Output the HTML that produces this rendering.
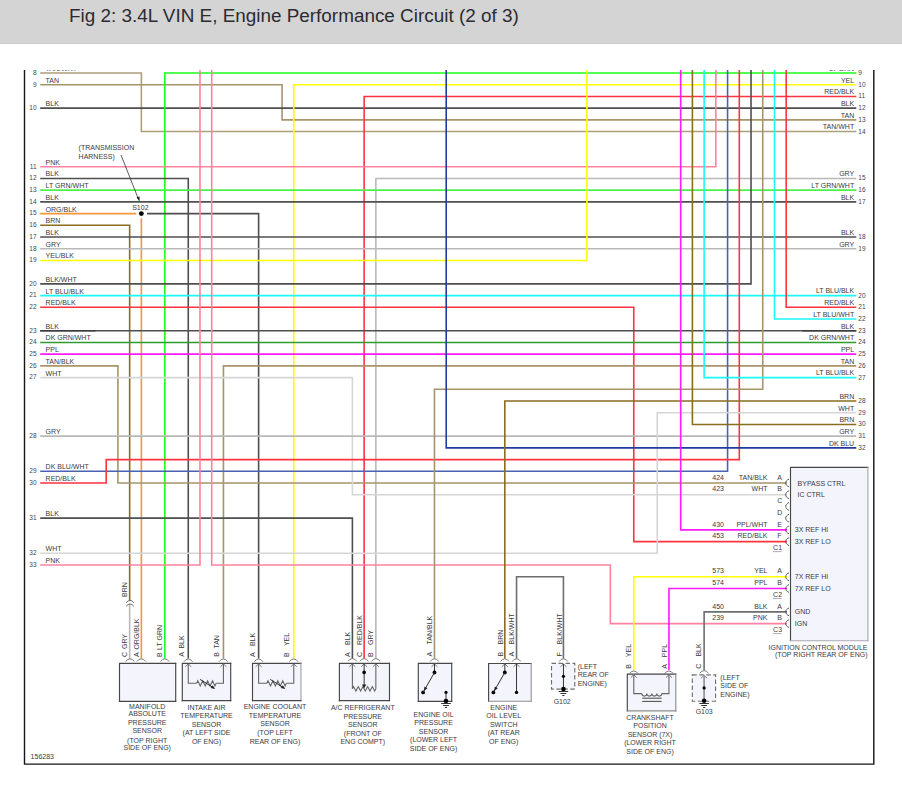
<!DOCTYPE html>
<html><head><meta charset="utf-8"><title>Fig 2: 3.4L VIN E, Engine Performance Circuit (2 of 3)</title>
<style>
html,body{margin:0;padding:0;background:#fff;}
body{width:902px;height:786px;overflow:hidden;position:relative;}
.hdr{position:absolute;left:0;top:0;width:902px;height:43px;background:#d4d4d4;border-bottom:1px solid #cbcbcb;}
.hdr h1{position:absolute;left:69px;top:0;margin:0;font:normal 18.9px/32px "Liberation Sans",Arial,sans-serif;color:#2b2b33;white-space:nowrap;}
svg{position:absolute;left:0;top:0;}
svg text{font-family:"Liberation Sans",Arial,sans-serif;fill:#3a3a44;}
.t{font-size:7px;}
.n{font-size:6.5px;fill:#44444e;}
.w path{fill:none;stroke-width:1.6;stroke-linejoin:miter;stroke-linecap:butt;}
</style></head>
<body>
<div class="hdr"><h1>Fig 2: 3.4L VIN E, Engine Performance Circuit (2 of 3)</h1></div>
<svg width="902" height="786" viewBox="0 0 902 786">
<g class="w">
<path d="M40.2 73 L141.37 73 L141.37 131.57 L856.3 131.57" stroke="#ad9e7c"/>
<path d="M40.2 84.72 L282.06 84.72 L282.06 119.86 L856.3 119.86" stroke="#a8946a"/>
<path d="M40.2 108.14 L856.3 108.14" stroke="#4f4f4f"/>
<path d="M164.82 658.6 L164.82 73 L856.3 73" stroke="#1aff1a" stroke-width="1.9"/>
<path d="M293.78 658.6 L293.78 84.72 L856.3 84.72" stroke="#ffff00" stroke-width="1.9"/>
<path d="M364.13 658.6 L364.13 96.43 L856.3 96.43" stroke="#ff3440"/>
<path d="M375.85 658.6 L375.85 178.44 L856.3 178.44" stroke="#b9b9b9"/>
<path d="M40.2 166.72 L715.85 166.72 L715.85 70" stroke="#ff82a0"/>
<path d="M40.2 178.44 L188.27 178.44 L188.27 658.6" stroke="#4f4f4f"/>
<path d="M40.2 190.15 L856.3 190.15" stroke="#4af24a"/>
<path d="M40.2 201.87 L856.3 201.87" stroke="#4f4f4f"/>
<path d="M40.2 213.58 L136.2 213.58" stroke="#f7953a"/>
<path d="M141.37 218.2 L141.37 658.6" stroke="#f7953a"/>
<path d="M147 213.58 L258.61 213.58 L258.61 658.6" stroke="#4f4f4f"/>
<path d="M40.2 225.29 L129.65 225.29 L129.65 600" stroke="#8a6c1e"/>
<path d="M129.65 604.5 L129.65 658.6" stroke="#b9b9b9"/>
<path d="M40.2 237.01 L856.3 237.01" stroke="#4f4f4f"/>
<path d="M40.2 248.72 L856.3 248.72" stroke="#b9b9b9"/>
<path d="M40.2 260.44 L586.88 260.44 L586.88 70" stroke="#ffff00" stroke-width="1.9"/>
<path d="M40.2 283.87 L751.02 283.87 L751.02 70" stroke="#4f4f4f"/>
<path d="M40.2 295.59 L856.3 295.59" stroke="#1af8f8"/>
<path d="M40.2 307.3 L633.78 307.3 L633.78 541.6 L787 541.6" stroke="#ff3440"/>
<path d="M40.2 330.73 L856.3 330.73" stroke="#4f4f4f"/>
<path d="M40.2 342.44 L856.3 342.44" stroke="#2f9a2f"/>
<path d="M40.2 354.16 L856.3 354.16" stroke="#ff1aff"/>
<path d="M40.2 365.88 L117.92 365.88 L117.92 483.02 L787 483.02" stroke="#a8946a"/>
<path d="M223.44 658.6 L223.44 365.88 L856.3 365.88" stroke="#a8946a"/>
<path d="M40.2 377.59 L352.4 377.59 L352.4 494.74 L787 494.74" stroke="#d6d6d6"/>
<path d="M40.2 436.17 L856.3 436.17" stroke="#b9b9b9"/>
<path d="M40.2 471.31 L727.57 471.31 L727.57 70" stroke="#4a62b0"/>
<path d="M40.2 483.02 L106.2 483.02 L106.2 459.59 L739.3 459.59 L739.3 70" stroke="#ff3440"/>
<path d="M40.2 518.17 L352.4 518.17 L352.4 658.6" stroke="#4f4f4f"/>
<path d="M40.2 553.32 L657.23 553.32 L657.23 412.74 L856.3 412.74" stroke="#d6d6d6"/>
<path d="M40.2 565.03 L199.99 565.03 L199.99 70" stroke="#ff82a0"/>
<path d="M211.72 70 L211.72 565.03 L610.33 565.03 L610.33 623.61 L787 623.61" stroke="#ff82a0"/>
<path d="M434.47 658.6 L434.47 389.31 L762.74 389.31 L762.74 70" stroke="#a8946a"/>
<path d="M446.2 70 L446.2 447.88 L856.3 447.88" stroke="#203c9e"/>
<path d="M504.82 658.6 L504.82 401.02 L856.3 401.02" stroke="#8a6c1e"/>
<path d="M516.54 658.6 L516.54 576.75 L563.44 576.75 L563.44 658.6" stroke="#6e6e6e"/>
<path d="M633.78 670 L633.78 576.75 L787 576.75" stroke="#ffff00" stroke-width="1.9"/>
<path d="M668.95 670 L668.95 588.46 L787 588.46" stroke="#ff1aff"/>
<path d="M704.12 670 L704.12 611.89 L787 611.89" stroke="#6e6e6e"/>
<path d="M680.68 70 L680.68 529.88 L787 529.88" stroke="#ff1aff"/>
<path d="M692.4 70 L692.4 424.45 L856.3 424.45" stroke="#8a6c1e"/>
<path d="M704.12 70 L704.12 377.59 L856.3 377.59" stroke="#1af8f8"/>
<path d="M774.47 70 L774.47 319.01 L856.3 319.01" stroke="#1af8f8"/>
<path d="M786.19 70 L786.19 307.3 L856.3 307.3" stroke="#ff3440"/>
</g>
<defs><clipPath id="topclip"><rect x="0" y="70" width="902" height="20"/></clipPath></defs>
<path d="M40.2 330.73 H95.4 M802.2 330.73 H856.3" stroke="#3e3e3e" stroke-width="1.7" fill="none"/>
<path d="M24.5 70 V764.1 H873.8 V70" fill="none" stroke="#151515" stroke-width="1.4"/>
<rect x="119.5" y="663.3" width="56.2" height="38" fill="#f4f4fc"/>
<path d="M119.5 701.3 V663.3 H175.7" fill="none" stroke="#474747" stroke-width="1.15" stroke-linecap="square"/>
<path d="M175.7 663.3 V701.3" fill="none" stroke="#474747" stroke-width="1.15" stroke-linecap="square"/>
<path d="M119.5 701.3 H175.7" fill="none" stroke="#474747" stroke-width="1.15" stroke-linecap="square"/>
<path d="M125.7 661.5 Q127.4 658.8 130 658.8 Q132.6 658.8 134.3 661.5" fill="none" stroke="#777" stroke-width="1"/>
<path d="M137.07 661.5 Q138.77 658.8 141.37 658.8 Q143.97 658.8 145.67 661.5" fill="none" stroke="#777" stroke-width="1"/>
<path d="M160.52 661.5 Q162.22 658.8 164.82 658.8 Q167.42 658.8 169.12 661.5" fill="none" stroke="#777" stroke-width="1"/>
<rect x="182.3" y="663.3" width="48.4" height="37.3" fill="#f4f4fc"/>
<path d="M182.3 700.6 V663.3 H230.7" fill="none" stroke="#474747" stroke-width="1.15" stroke-linecap="square"/>
<path d="M230.7 663.3 V700.6" fill="none" stroke="#474747" stroke-width="1.15" stroke-linecap="square"/>
<path d="M182.3 700.6 H230.7" fill="none" stroke="#474747" stroke-width="1.15" stroke-linecap="square"/>
<path d="M183.97 661.7 Q185.67 659 188.27 659 Q190.87 659 192.57 661.7" fill="none" stroke="#777" stroke-width="1"/>
<path d="M185.27 666.8 L188.27 663.9 L191.27 666.8" fill="none" stroke="#6a6a6a" stroke-width="0.9"/>
<path d="M219.14 661.7 Q220.84 659 223.44 659 Q226.04 659 227.74 661.7" fill="none" stroke="#777" stroke-width="1"/>
<path d="M220.44 666.8 L223.44 663.9 L226.44 666.8" fill="none" stroke="#6a6a6a" stroke-width="0.9"/>
<path d="M188.27 664 L188.27 683.3 L196.6 683.3" fill="none" stroke="#666" stroke-width="1.1"/>
<path d="M196.6 683.3 L197.82 680.7 L200.28 685.9 L202.72 680.7 L205.17 685.9 L207.62 680.7 L210.07 685.9 L212.52 680.7 L214.97 685.9 L216.2 683.3" fill="none" stroke="#666" stroke-width="1.1"/>
<path d="M216.2 683.3 L223.44 683.3 L223.44 664" fill="none" stroke="#666" stroke-width="1.1"/>
<path d="M200 679.4 L213.5 687.8" fill="none" stroke="#222" stroke-width="0.9"/>
<path d="M215.2 689 L210.6 687.9 L212.6 685.2 Z" fill="#222"/>
<rect x="252.5" y="663.3" width="48.5" height="37.3" fill="#f4f4fc"/>
<path d="M252.5 700.6 V663.3 H301" fill="none" stroke="#474747" stroke-width="1.15" stroke-linecap="square"/>
<path d="M301 663.3 V700.6" fill="none" stroke="#a4a4ac" stroke-width="1.15" stroke-linecap="square"/>
<path d="M252.5 700.6 H301" fill="none" stroke="#474747" stroke-width="1.15" stroke-linecap="square"/>
<path d="M254.31 661.7 Q256.01 659 258.61 659 Q261.21 659 262.91 661.7" fill="none" stroke="#777" stroke-width="1"/>
<path d="M255.61 666.8 L258.61 663.9 L261.61 666.8" fill="none" stroke="#6a6a6a" stroke-width="0.9"/>
<path d="M289.48 661.7 Q291.18 659 293.78 659 Q296.38 659 298.08 661.7" fill="none" stroke="#777" stroke-width="1"/>
<path d="M290.78 666.8 L293.78 663.9 L296.78 666.8" fill="none" stroke="#6a6a6a" stroke-width="0.9"/>
<path d="M258.61 664 L258.61 683.3 L266.8 683.3" fill="none" stroke="#666" stroke-width="1.1"/>
<path d="M266.8 683.3 L268.03 680.7 L270.48 685.9 L272.93 680.7 L275.38 685.9 L277.82 680.7 L280.27 685.9 L282.72 680.7 L285.17 685.9 L286.4 683.3" fill="none" stroke="#666" stroke-width="1.1"/>
<path d="M286.4 683.3 L293.78 683.3 L293.78 664" fill="none" stroke="#666" stroke-width="1.1"/>
<path d="M270.2 679.4 L283.7 687.8" fill="none" stroke="#222" stroke-width="0.9"/>
<path d="M285.4 689 L280.8 687.9 L282.8 685.2 Z" fill="#222"/>
<rect x="339.4" y="663.3" width="50.1" height="37.3" fill="#f4f4fc"/>
<path d="M339.4 700.6 V663.3 H389.5" fill="none" stroke="#474747" stroke-width="1.15" stroke-linecap="square"/>
<path d="M389.5 663.3 V700.6" fill="none" stroke="#474747" stroke-width="1.15" stroke-linecap="square"/>
<path d="M339.4 700.6 H389.5" fill="none" stroke="#474747" stroke-width="1.15" stroke-linecap="square"/>
<path d="M348.1 661.3 Q349.8 658.6 352.4 658.6 Q355 658.6 356.7 661.3" fill="none" stroke="#777" stroke-width="1"/>
<path d="M349.4 666.8 L352.4 663.9 L355.4 666.8" fill="none" stroke="#6a6a6a" stroke-width="0.9"/>
<path d="M359.83 661.3 Q361.53 658.6 364.13 658.6 Q366.73 658.6 368.43 661.3" fill="none" stroke="#777" stroke-width="1"/>
<path d="M361.13 666.8 L364.13 663.9 L367.13 666.8" fill="none" stroke="#6a6a6a" stroke-width="0.9"/>
<path d="M371.55 661.3 Q373.25 658.6 375.85 658.6 Q378.45 658.6 380.15 661.3" fill="none" stroke="#777" stroke-width="1"/>
<path d="M372.85 666.8 L375.85 663.9 L378.85 666.8" fill="none" stroke="#6a6a6a" stroke-width="0.9"/>
<path d="M352.4 664 L352.4 688.8" fill="none" stroke="#666" stroke-width="1.1"/>
<path d="M352.4 688.8 L353.58 686.6 L355.92 691 L358.27 686.6 L360.61 691 L362.96 686.6 L365.3 691 L367.65 686.6 L369.99 691 L372.33 686.6 L374.68 691 L375.85 688.8" fill="none" stroke="#666" stroke-width="1.1"/>
<path d="M375.85 688.8 L375.85 664" fill="none" stroke="#666" stroke-width="1.1"/>
<path d="M364.13 664 L364.13 685.5" fill="none" stroke="#333" stroke-width="1"/>
<circle cx="364.13" cy="672.4" r="1.8" fill="#000"/>
<path d="M364.13 688.3 L361.93 684.4 L366.33 684.4 Z" fill="#222"/>
<rect x="418.3" y="663.4" width="33.4" height="37.9" fill="#f4f4fc"/>
<path d="M418.3 701.3 V663.4 H451.7" fill="none" stroke="#474747" stroke-width="1.15" stroke-linecap="square"/>
<path d="M451.7 663.4 V701.3" fill="none" stroke="#474747" stroke-width="1.15" stroke-linecap="square"/>
<path d="M418.3 701.3 H451.7" fill="none" stroke="#474747" stroke-width="1.15" stroke-linecap="square"/>
<path d="M430.17 661.5 Q431.87 658.8 434.47 658.8 Q437.07 658.8 438.77 661.5" fill="none" stroke="#777" stroke-width="1"/>
<path d="M431.47 666.8 L434.47 663.9 L437.47 666.8" fill="none" stroke="#6a6a6a" stroke-width="0.9"/>
<path d="M434.47 664 L434.47 672.5" fill="none" stroke="#333" stroke-width="1"/>
<circle cx="434.47" cy="672.5" r="1.9" fill="#000"/>
<circle cx="423.1" cy="692.4" r="1.9" fill="#000"/>
<path d="M434.47 672.5 L423.1 692.4" fill="none" stroke="#333" stroke-width="1"/>
<path d="M423.89 691.01 L424.49 686.52 L427.44 688.20 Z" fill="#222"/>
<circle cx="446" cy="692.4" r="1.6" fill="#000"/>
<path d="M446 692.4 L446 701" fill="none" stroke="#333" stroke-width="1"/>
<circle cx="446" cy="701" r="2.3" fill="#000"/>
<path d="M441.2 703.5 L450.8 703.5" fill="none" stroke="#333" stroke-width="1"/>
<path d="M443.1 705.5 L448.9 705.5" fill="none" stroke="#333" stroke-width="1"/>
<path d="M444.9 707.5 L447.1 707.5" fill="none" stroke="#333" stroke-width="1"/>
<rect x="488.6" y="663.5" width="42.6" height="37.7" fill="#f4f4fc"/>
<path d="M488.6 701.2 V663.5 H531.2" fill="none" stroke="#474747" stroke-width="1.15" stroke-linecap="square"/>
<path d="M531.2 663.5 V701.2" fill="none" stroke="#959595" stroke-width="1.15" stroke-linecap="square"/>
<path d="M488.6 701.2 H531.2" fill="none" stroke="#8e8e8e" stroke-width="1.15" stroke-linecap="square"/>
<path d="M500.52 661.5 Q502.22 658.8 504.82 658.8 Q507.42 658.8 509.12 661.5" fill="none" stroke="#777" stroke-width="1"/>
<path d="M501.82 666.8 L504.82 663.9 L507.82 666.8" fill="none" stroke="#6a6a6a" stroke-width="0.9"/>
<path d="M512.24 661.5 Q513.94 658.8 516.54 658.8 Q519.14 658.8 520.84 661.5" fill="none" stroke="#777" stroke-width="1"/>
<path d="M513.54 666.8 L516.54 663.9 L519.54 666.8" fill="none" stroke="#6a6a6a" stroke-width="0.9"/>
<path d="M504.82 664 L504.82 672.5" fill="none" stroke="#333" stroke-width="1"/>
<circle cx="504.82" cy="672.5" r="1.9" fill="#000"/>
<circle cx="493.4" cy="692.4" r="1.9" fill="#000"/>
<path d="M504.82 672.5 L493.4 692.4" fill="none" stroke="#333" stroke-width="1"/>
<path d="M494.20 691.01 L494.81 686.52 L497.76 688.21 Z" fill="#222"/>
<path d="M516.54 664 L516.54 692.4" fill="none" stroke="#333" stroke-width="1"/>
<circle cx="516.54" cy="692.4" r="1.7" fill="#000"/>
<rect x="551.5" y="663.4" width="23.3" height="25.7" fill="#f4f4fc" stroke="#707070" stroke-width="1.15" stroke-dasharray="4.5 2.5"/>
<path d="M559.14 661.5 Q560.84 658.8 563.44 658.8 Q566.04 658.8 567.74 661.5" fill="none" stroke="#777" stroke-width="1"/>
<path d="M560.44 666.8 L563.44 663.9 L566.44 666.8" fill="none" stroke="#6a6a6a" stroke-width="0.9"/>
<path d="M563.44 664 L563.44 689" fill="none" stroke="#333" stroke-width="1"/>
<circle cx="563.44" cy="676.3" r="1.6" fill="#000"/>
<circle cx="563.44" cy="689" r="2.3" fill="#000"/>
<path d="M558.64 691.5 L568.24 691.5" fill="none" stroke="#333" stroke-width="1"/>
<path d="M560.54 693.5 L566.34 693.5" fill="none" stroke="#333" stroke-width="1"/>
<path d="M562.34 695.5 L564.54 695.5" fill="none" stroke="#333" stroke-width="1"/>
<rect x="627.3" y="674.1" width="48.5" height="36.8" fill="#f4f4fc"/>
<path d="M627.3 710.9 V674.1 H675.8" fill="none" stroke="#474747" stroke-width="1.15" stroke-linecap="square"/>
<path d="M675.8 674.1 V710.9" fill="none" stroke="#8c8c8c" stroke-width="1.15" stroke-linecap="square"/>
<path d="M627.3 710.9 H675.8" fill="none" stroke="#8c8c8c" stroke-width="1.15" stroke-linecap="square"/>
<path d="M629.48 673.7 Q631.18 671 633.78 671 Q636.38 671 638.08 673.7" fill="none" stroke="#777" stroke-width="1"/>
<path d="M630.78 677.6 L633.78 674.7 L636.78 677.6" fill="none" stroke="#6a6a6a" stroke-width="0.9"/>
<path d="M664.65 673.7 Q666.35 671 668.95 671 Q671.55 671 673.25 673.7" fill="none" stroke="#777" stroke-width="1"/>
<path d="M665.95 677.6 L668.95 674.7 L671.95 677.6" fill="none" stroke="#6a6a6a" stroke-width="0.9"/>
<path d="M633.78 675 L633.78 693.6 L642 693.6" fill="none" stroke="#666" stroke-width="1.1"/>
<path d="M641.8 693.6 a2.5 2.5 0 0 0 5 0 a2.5 2.5 0 0 0 5 0 a2.5 2.5 0 0 0 5 0 a2.5 2.5 0 0 0 5 0" fill="none" stroke="#666" stroke-width="1.1"/>
<path d="M661.8 693.6 L668.95 693.6 L668.95 675" fill="none" stroke="#666" stroke-width="1.1"/>
<path d="M642.2 698.2 L661.6 698.2" fill="none" stroke="#555" stroke-width="1.1"/>
<path d="M642.2 701.4 L661.6 701.4" fill="none" stroke="#555" stroke-width="1.1"/>
<rect x="692.3" y="674.9" width="23.3" height="26.3" fill="#f4f4fc" stroke="#707070" stroke-width="1.15" stroke-dasharray="4.5 2.5"/>
<path d="M699.82 673.3 Q701.52 670.6 704.12 670.6 Q706.72 670.6 708.42 673.3" fill="none" stroke="#777" stroke-width="1"/>
<path d="M701.12 678.2 L704.12 675.3 L707.12 678.2" fill="none" stroke="#6a6a6a" stroke-width="0.9"/>
<path d="M704.12 675 L704.12 700.7" fill="none" stroke="#999" stroke-width="1.8"/>
<circle cx="704.12" cy="687.9" r="1.6" fill="#000"/>
<circle cx="704.12" cy="700.7" r="2.3" fill="#000"/>
<path d="M699.32 703.5 L708.92 703.5" fill="none" stroke="#333" stroke-width="1"/>
<path d="M701.22 705.5 L707.02 705.5" fill="none" stroke="#333" stroke-width="1"/>
<path d="M703.02 707.5 L705.22 707.5" fill="none" stroke="#333" stroke-width="1"/>
<rect x="790.5" y="467.4" width="77.4" height="173.3" fill="#f4f4fc"/>
<path d="M790.5 640.7 V467.4 H867.9" fill="none" stroke="#474747" stroke-width="1.15" stroke-linecap="square"/>
<path d="M867.9 467.4 V640.7" fill="none" stroke="#a8a8b0" stroke-width="1.15" stroke-linecap="square"/>
<path d="M790.5 640.7 H867.9" fill="none" stroke="#a8a8b0" stroke-width="1.15" stroke-linecap="square"/>
<path d="M789 479.12 C784.6 480.82 784.6 485.22 789 486.92" fill="none" stroke="#555" stroke-width="1"/>
<path d="M789 490.84 C784.6 492.54 784.6 496.94 789 498.64" fill="none" stroke="#555" stroke-width="1"/>
<path d="M789 502.56 C784.6 504.25 784.6 508.65 789 510.35" fill="none" stroke="#555" stroke-width="1"/>
<path d="M789 514.27 C784.6 515.97 784.6 520.37 789 522.07" fill="none" stroke="#555" stroke-width="1"/>
<path d="M789 525.99 C784.6 527.68 784.6 532.09 789 533.78" fill="none" stroke="#555" stroke-width="1"/>
<path d="M789 537.7 C784.6 539.4 784.6 543.8 789 545.5" fill="none" stroke="#555" stroke-width="1"/>
<path d="M789 572.85 C784.6 574.54 784.6 578.95 789 580.64" fill="none" stroke="#555" stroke-width="1"/>
<path d="M789 584.56 C784.6 586.26 784.6 590.66 789 592.36" fill="none" stroke="#555" stroke-width="1"/>
<path d="M789 607.99 C784.6 609.69 784.6 614.09 789 615.79" fill="none" stroke="#555" stroke-width="1"/>
<path d="M789 619.71 C784.6 621.4 784.6 625.81 789 627.5" fill="none" stroke="#555" stroke-width="1"/>
<path d="M126.2 602.6 Q130 598.2 133.8 602.6 M126.2 606.2 Q130 601.8 133.8 606.2" fill="none" stroke="#666" stroke-width="1"/>
<circle cx="141.37" cy="213.58" r="2.4" fill="#000"/>
<path d="M121 155 L138.6 199.5" fill="none" stroke="#333" stroke-width="0.8"/>
<path d="M139.5 201.8 L136.6 197.3 L139.6 196.4 Z" fill="#222"/>
<path d="M772.8 551.62 H781.6" stroke="#777" stroke-width="0.6"/>
<path d="M772.8 598.47 H781.6" stroke="#777" stroke-width="0.6"/>
<path d="M772.8 633.62 H781.6" stroke="#777" stroke-width="0.6"/>
<g>
<text class="n" x="36.6" y="74.8" text-anchor="end">8</text>
<text class="n" x="36.6" y="86.52" text-anchor="end">9</text>
<text class="t" x="45.6" y="82.72">TAN</text>
<text class="n" x="36.6" y="109.94" text-anchor="end">10</text>
<text class="t" x="45.6" y="106.14">BLK</text>
<text class="n" x="36.6" y="168.52" text-anchor="end">11</text>
<text class="t" x="45.6" y="164.72">PNK</text>
<text class="n" x="36.6" y="180.24" text-anchor="end">12</text>
<text class="t" x="45.6" y="176.44">BLK</text>
<text class="n" x="36.6" y="191.95" text-anchor="end">13</text>
<text class="t" x="45.6" y="188.15">LT GRN/WHT</text>
<text class="n" x="36.6" y="203.67" text-anchor="end">14</text>
<text class="t" x="45.6" y="199.87">BLK</text>
<text class="n" x="36.6" y="215.38" text-anchor="end">15</text>
<text class="t" x="45.6" y="211.58">ORG/BLK</text>
<text class="n" x="36.6" y="227.09" text-anchor="end">16</text>
<text class="t" x="45.6" y="223.29">BRN</text>
<text class="n" x="36.6" y="238.81" text-anchor="end">17</text>
<text class="t" x="45.6" y="235.01">BLK</text>
<text class="n" x="36.6" y="250.53" text-anchor="end">18</text>
<text class="t" x="45.6" y="246.72">GRY</text>
<text class="n" x="36.6" y="262.24" text-anchor="end">19</text>
<text class="t" x="45.6" y="258.44">YEL/BLK</text>
<text class="n" x="36.6" y="285.67" text-anchor="end">20</text>
<text class="t" x="45.6" y="281.87">BLK/WHT</text>
<text class="n" x="36.6" y="297.39" text-anchor="end">21</text>
<text class="t" x="45.6" y="293.59">LT BLU/BLK</text>
<text class="n" x="36.6" y="309.1" text-anchor="end">22</text>
<text class="t" x="45.6" y="305.3">RED/BLK</text>
<text class="n" x="36.6" y="332.53" text-anchor="end">23</text>
<text class="t" x="45.6" y="328.73">BLK</text>
<text class="n" x="36.6" y="344.25" text-anchor="end">24</text>
<text class="t" x="45.6" y="340.44">DK GRN/WHT</text>
<text class="n" x="36.6" y="355.96" text-anchor="end">25</text>
<text class="t" x="45.6" y="352.16">PPL</text>
<text class="n" x="36.6" y="367.68" text-anchor="end">26</text>
<text class="t" x="45.6" y="363.88">TAN/BLK</text>
<text class="n" x="36.6" y="379.39" text-anchor="end">27</text>
<text class="t" x="45.6" y="375.59">WHT</text>
<text class="n" x="36.6" y="437.97" text-anchor="end">28</text>
<text class="t" x="45.6" y="434.17">GRY</text>
<text class="n" x="36.6" y="473.11" text-anchor="end">29</text>
<text class="t" x="45.6" y="469.31">DK BLU/WHT</text>
<text class="n" x="36.6" y="484.82" text-anchor="end">30</text>
<text class="t" x="45.6" y="481.02">RED/BLK</text>
<text class="n" x="36.6" y="519.97" text-anchor="end">31</text>
<text class="t" x="45.6" y="516.17">BLK</text>
<text class="n" x="36.6" y="555.12" text-anchor="end">32</text>
<text class="t" x="45.6" y="551.32">WHT</text>
<text class="n" x="36.6" y="566.83" text-anchor="end">33</text>
<text class="t" x="45.6" y="563.03">PNK</text>
<text class="n" x="858.3" y="75">9</text>
<text class="n" x="858.3" y="86.72">10</text>
<text class="t" x="854.2" y="82.62" text-anchor="end">YEL</text>
<text class="n" x="858.3" y="98.43">11</text>
<text class="t" x="854.2" y="94.33" text-anchor="end">RED/BLK</text>
<text class="n" x="858.3" y="110.14">12</text>
<text class="t" x="854.2" y="106.05" text-anchor="end">BLK</text>
<text class="n" x="858.3" y="121.86">13</text>
<text class="t" x="854.2" y="117.76" text-anchor="end">TAN</text>
<text class="n" x="858.3" y="133.57">14</text>
<text class="t" x="854.2" y="129.47" text-anchor="end">TAN/WHT</text>
<text class="n" x="858.3" y="180.44">15</text>
<text class="t" x="854.2" y="176.34" text-anchor="end">GRY</text>
<text class="n" x="858.3" y="192.15">16</text>
<text class="t" x="854.2" y="188.05" text-anchor="end">LT GRN/WHT</text>
<text class="n" x="858.3" y="203.87">17</text>
<text class="t" x="854.2" y="199.77" text-anchor="end">BLK</text>
<text class="n" x="858.3" y="239.01">18</text>
<text class="t" x="854.2" y="234.91" text-anchor="end">BLK</text>
<text class="n" x="858.3" y="250.72">19</text>
<text class="t" x="854.2" y="246.62" text-anchor="end">GRY</text>
<text class="n" x="858.3" y="297.59">20</text>
<text class="t" x="854.2" y="293.49" text-anchor="end">LT BLU/BLK</text>
<text class="n" x="858.3" y="309.3">21</text>
<text class="t" x="854.2" y="305.2" text-anchor="end">RED/BLK</text>
<text class="n" x="858.3" y="321.01">22</text>
<text class="t" x="854.2" y="316.91" text-anchor="end">LT BLU/WHT</text>
<text class="n" x="858.3" y="332.73">23</text>
<text class="t" x="854.2" y="328.63" text-anchor="end">BLK</text>
<text class="n" x="858.3" y="344.44">24</text>
<text class="t" x="854.2" y="340.34" text-anchor="end">DK GRN/WHT</text>
<text class="n" x="858.3" y="356.16">25</text>
<text class="t" x="854.2" y="352.06" text-anchor="end">PPL</text>
<text class="n" x="858.3" y="367.88">26</text>
<text class="t" x="854.2" y="363.77" text-anchor="end">TAN</text>
<text class="n" x="858.3" y="379.59">27</text>
<text class="t" x="854.2" y="375.49" text-anchor="end">LT BLU/BLK</text>
<text class="n" x="858.3" y="403.02">28</text>
<text class="t" x="854.2" y="398.92" text-anchor="end">BRN</text>
<text class="n" x="858.3" y="414.74">29</text>
<text class="t" x="854.2" y="410.63" text-anchor="end">WHT</text>
<text class="n" x="858.3" y="426.45">30</text>
<text class="t" x="854.2" y="422.35" text-anchor="end">BRN</text>
<text class="n" x="858.3" y="438.17">31</text>
<text class="t" x="854.2" y="434.06" text-anchor="end">GRY</text>
<text class="n" x="858.3" y="449.88">32</text>
<text class="t" x="854.2" y="445.78" text-anchor="end">DK BLU</text>
<text class="t" transform="translate(126.9 656.9) rotate(-90)">C</text>
<text class="t" transform="translate(126.9 649) rotate(-90)">GRY</text>
<text class="t" transform="translate(139.2 656.9) rotate(-90)">A</text>
<text class="t" transform="translate(139.2 649.6) rotate(-90)">ORG/BLK</text>
<text class="t" transform="translate(161.8 656.9) rotate(-90)">B</text>
<text class="t" transform="translate(161.8 649.9) rotate(-90)">LT GRN</text>
<text class="t" transform="translate(183.8 656.8) rotate(-90)">A</text>
<text class="t" transform="translate(183.8 648.6) rotate(-90)">BLK</text>
<text class="t" transform="translate(219 656.8) rotate(-90)">B</text>
<text class="t" transform="translate(219 648.6) rotate(-90)">TAN</text>
<text class="t" transform="translate(254.8 656.9) rotate(-90)">A</text>
<text class="t" transform="translate(254.8 646.1) rotate(-90)">BLK</text>
<text class="t" transform="translate(289.3 656.9) rotate(-90)">B</text>
<text class="t" transform="translate(289.3 646.1) rotate(-90)">YEL</text>
<text class="t" transform="translate(350.1 656.9) rotate(-90)">A</text>
<text class="t" transform="translate(350.1 645) rotate(-90)">BLK</text>
<text class="t" transform="translate(362 656.9) rotate(-90)">C</text>
<text class="t" transform="translate(362 645) rotate(-90)">RED/BLK</text>
<text class="t" transform="translate(373.2 656.9) rotate(-90)">B</text>
<text class="t" transform="translate(373.2 645) rotate(-90)">GRY</text>
<text class="t" transform="translate(432.2 656.4) rotate(-90)">A</text>
<text class="t" transform="translate(432.2 644.4) rotate(-90)">TAN/BLK</text>
<text class="t" transform="translate(502.5 656.4) rotate(-90)">B</text>
<text class="t" transform="translate(502.5 644.4) rotate(-90)">BRN</text>
<text class="t" transform="translate(514 656.4) rotate(-90)">A</text>
<text class="t" transform="translate(514 644.4) rotate(-90)">BLK/WHT</text>
<text class="t" transform="translate(561.5 656.4) rotate(-90)">F</text>
<text class="t" transform="translate(561.5 644.4) rotate(-90)">BLK/WHT</text>
<text class="t" transform="translate(631.1 668.8) rotate(-90)">B</text>
<text class="t" transform="translate(631.1 657.2) rotate(-90)">YEL</text>
<text class="t" transform="translate(666.6 668.8) rotate(-90)">A</text>
<text class="t" transform="translate(666.6 657.2) rotate(-90)">PPL</text>
<text class="t" transform="translate(701 668.8) rotate(-90)">C</text>
<text class="t" transform="translate(701 656.6) rotate(-90)">BLK</text>
<text class="t" transform="translate(126.9 597) rotate(-90)">BRN</text>
<text class="t" x="147.2" y="709" text-anchor="middle">MANIFOLD</text>
<text class="t" x="147.2" y="715.8" text-anchor="middle">ABSOLUTE</text>
<text class="t" x="147.2" y="724.8" text-anchor="middle">PRESSURE</text>
<text class="t" x="147.2" y="732.9" text-anchor="middle">SENSOR</text>
<text class="t" x="147.2" y="742.7" text-anchor="middle">(TOP RIGHT</text>
<text class="t" x="147.2" y="749.7" text-anchor="middle">SIDE OF ENG)</text>
<text class="t" x="206.5" y="710.1" text-anchor="middle">INTAKE AIR</text>
<text class="t" x="206.5" y="717.8" text-anchor="middle">TEMPERATURE</text>
<text class="t" x="206.5" y="726.7" text-anchor="middle">SENSOR</text>
<text class="t" x="206.5" y="734.9" text-anchor="middle">(AT LEFT SIDE</text>
<text class="t" x="206.5" y="743.5" text-anchor="middle">OF ENG)</text>
<text class="t" x="275" y="708.9" text-anchor="middle">ENGINE COOLANT</text>
<text class="t" x="275" y="717.7" text-anchor="middle">TEMPERATURE</text>
<text class="t" x="275" y="725.7" text-anchor="middle">SENSOR</text>
<text class="t" x="275" y="734.9" text-anchor="middle">(TOP LEFT</text>
<text class="t" x="275" y="743.8" text-anchor="middle">REAR OF ENG)</text>
<text class="t" x="362.8" y="710.1" text-anchor="middle">A/C REFRIGERANT</text>
<text class="t" x="362.8" y="718.6" text-anchor="middle">PRESSURE</text>
<text class="t" x="362.8" y="727" text-anchor="middle">SENSOR</text>
<text class="t" x="362.8" y="735.5" text-anchor="middle">(FRONT OF</text>
<text class="t" x="362.8" y="743.5" text-anchor="middle">ENG COMPT)</text>
<text class="t" x="433.6" y="716.7" text-anchor="middle">ENGINE OIL</text>
<text class="t" x="433.6" y="725" text-anchor="middle">PRESSURE</text>
<text class="t" x="433.6" y="733.8" text-anchor="middle">SENSOR</text>
<text class="t" x="433.6" y="741.9" text-anchor="middle">(LOWER LEFT</text>
<text class="t" x="433.6" y="750.9" text-anchor="middle">SIDE OF ENG)</text>
<text class="t" x="503.7" y="709.9" text-anchor="middle">ENGINE</text>
<text class="t" x="503.7" y="717.8" text-anchor="middle">OIL LEVEL</text>
<text class="t" x="503.7" y="726.8" text-anchor="middle">SWITCH</text>
<text class="t" x="503.7" y="735" text-anchor="middle">(AT REAR</text>
<text class="t" x="503.7" y="743.9" text-anchor="middle">OF ENG)</text>
<text class="t" x="650" y="719.9" text-anchor="middle">CRANKSHAFT</text>
<text class="t" x="650" y="727.9" text-anchor="middle">POSITION</text>
<text class="t" x="650" y="736.8" text-anchor="middle">SENSOR (7X)</text>
<text class="t" x="650" y="744.7" text-anchor="middle">(LOWER RIGHT</text>
<text class="t" x="650" y="753.5" text-anchor="middle">SIDE OF ENG)</text>
<text class="t" x="562.2" y="703.8" text-anchor="middle">G102</text>
<text class="t" x="704.2" y="713.8" text-anchor="middle">G103</text>
<text class="t" x="577.7" y="669">(LEFT</text>
<text class="t" x="577.7" y="676.7">REAR OF</text>
<text class="t" x="577.7" y="685.6">ENGINE)</text>
<text class="t" x="720.3" y="679.6">(LEFT</text>
<text class="t" x="720.3" y="687.9">SIDE OF</text>
<text class="t" x="720.3" y="696.8">ENGINE)</text>
<text class="t" x="867.5" y="649.9" text-anchor="end">IGNITION CONTROL MODULE</text>
<text class="t" x="867.5" y="657.2" text-anchor="end">(TOP RIGHT REAR OF ENG)</text>
<text class="t" x="712.3" y="479.72">424</text>
<text class="t" x="767.5" y="479.72" text-anchor="end">TAN/BLK</text>
<text class="t" x="777.3" y="479.72">A</text>
<text class="t" x="797.6" y="485.62">BYPASS CTRL</text>
<text class="t" x="712.3" y="491.44">423</text>
<text class="t" x="767.5" y="491.44" text-anchor="end">WHT</text>
<text class="t" x="777.3" y="491.44">B</text>
<text class="t" x="797.6" y="497.34">IC CTRL</text>
<text class="t" x="777.3" y="503.15">C</text>
<text class="t" x="777.3" y="514.87">D</text>
<text class="t" x="712.3" y="526.59">430</text>
<text class="t" x="767.5" y="526.59" text-anchor="end">PPL/WHT</text>
<text class="t" x="777.3" y="526.59">E</text>
<text class="t" x="794.8" y="532.49">3X REF HI</text>
<text class="t" x="712.3" y="538.3">453</text>
<text class="t" x="767.5" y="538.3" text-anchor="end">RED/BLK</text>
<text class="t" x="777.3" y="538.3">F</text>
<text class="t" x="794.8" y="544.2">3X REF LO</text>
<text class="t" x="712.3" y="573.45">573</text>
<text class="t" x="767.5" y="573.45" text-anchor="end">YEL</text>
<text class="t" x="777.3" y="573.45">A</text>
<text class="t" x="794.8" y="579.35">7X REF HI</text>
<text class="t" x="712.3" y="585.16">574</text>
<text class="t" x="767.5" y="585.16" text-anchor="end">PPL</text>
<text class="t" x="777.3" y="585.16">B</text>
<text class="t" x="794.8" y="591.06">7X REF LO</text>
<text class="t" x="712.3" y="608.59">450</text>
<text class="t" x="767.5" y="608.59" text-anchor="end">BLK</text>
<text class="t" x="777.3" y="608.59">A</text>
<text class="t" x="794.8" y="614.49">GND</text>
<text class="t" x="712.3" y="620.31">239</text>
<text class="t" x="767.5" y="620.31" text-anchor="end">PNK</text>
<text class="t" x="777.3" y="620.31">B</text>
<text class="t" x="794.8" y="626.21">IGN</text>
<text class="t" x="773.1" y="550.32">C1</text>
<text class="t" x="773.1" y="597.17">C2</text>
<text class="t" x="773.1" y="632.32">C3</text>
<text class="t" x="78.6" y="150.3">(TRANSMISSION</text>
<text class="t" x="78.6" y="159">HARNESS)</text>
<text class="t" x="132.2" y="210.2">S102</text>
<text class="t" x="30.6" y="758.8">156283</text>
<g clip-path="url(#topclip)"><text class="t" x="45.6" y="71">TAN/WHT</text><text class="t" x="854.2" y="70.9" text-anchor="end">LT GRN</text></g>
</g>
</svg>
</body></html>
